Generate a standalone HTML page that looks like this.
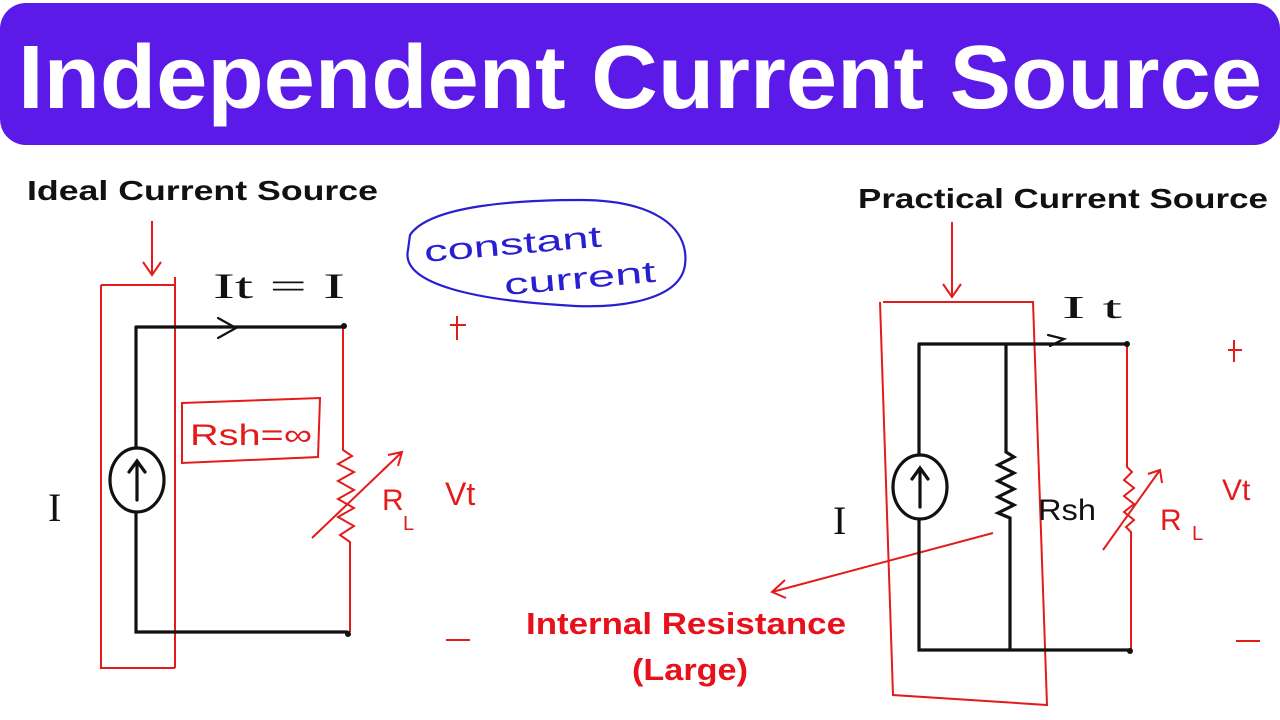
<!DOCTYPE html>
<html><head><meta charset="utf-8"><style>
html,body{margin:0;padding:0;background:#fff;width:1280px;height:720px;overflow:hidden}
svg{display:block}
.t{font-family:"Liberation Sans",sans-serif;font-weight:bold}
.h{font-family:"Liberation Sans",sans-serif}
.s{font-family:"Liberation Serif",serif}
</style></head><body>
<svg width="1280" height="720" viewBox="0 0 1280 720" xmlns="http://www.w3.org/2000/svg">
<rect x="0" y="3" width="1280" height="142" rx="26" fill="#5b1ae8"/>
<text class="t" x="18" y="108" font-size="90" fill="#fff" textLength="1244" lengthAdjust="spacingAndGlyphs">Independent Current Source</text>

<!-- Ideal -->
<text class="t" x="27" y="200" font-size="28" fill="#111" textLength="351" lengthAdjust="spacingAndGlyphs">Ideal Current Source</text>
<g stroke="#e31b1b" stroke-width="2" fill="none">
<path d="M152 221 V274 M143 262 L152 275 L161 262"/>
<path d="M101 285 H175 M101 285 V668 H175 M175 277 V668"/>
<path d="M182 403 L320 398 L318 457 L182 463 Z"/>
<path d="M343 327 V450 L352 456 L338 464 L354 472 L338 481 L354 490 L338 499 L354 508 L338 517 L354 526 L340 535 L350 542 V632"/>
<path d="M312 538 L402 452 M388 455 L402 452 L398 466"/>
<path d="M450 325 H466 M457 316 V340 M446 640 H470"/>
<path d="M883 302 L1033 302 L1047 705 L893 695 L880 302"/>
<path d="M952 222 V296 M943 284 L952 297 L961 284"/>
<path d="M1127 344 V467 L1132 472 L1124 480 L1134 488 L1124 496 L1134 504 L1124 512 L1134 520 L1126 527 L1131 532 V650"/>
<path d="M1103 550 L1160 470 M1148 474 L1160 470 L1162 483"/>
<path d="M993 533 L772 592 M785 580 L772 592 L786 598"/>
<path d="M1228 350 H1242 M1234 340 V362 M1236 641 H1260"/>
</g>
<g stroke="#111" stroke-width="3.2" fill="none" stroke-linecap="round">
<path d="M136 327 H344 M136 327 V448 M136 512 V632 H347"/>
<ellipse cx="137" cy="480" rx="27" ry="32"/>
<path d="M137 500 V462 M129 472 L137 461 L145 472"/>
<path d="M218 318 L236 328 L218 338" stroke-width="2.2"/>
<path d="M919 344 H1127 M919 344 V455 M919 519 V650 H1130 M1006 344 V452 L1014 457 L998 465 L1014 473 L998 481 L1014 489 L998 497 L1014 505 L998 513 L1010 518 V650"/>
<ellipse cx="920" cy="487" rx="27" ry="32"/>
<path d="M920 507 V469 M912 479 L920 468 L928 479"/>
<path d="M1048 335 L1064 339 L1050 346" stroke-width="2.2"/>
</g>
<circle cx="344" cy="326" r="3" fill="#111"/><circle cx="348" cy="634" r="3" fill="#111"/>
<circle cx="1127" cy="344" r="3" fill="#111"/><circle cx="1130" cy="651" r="3" fill="#111"/>

<g class="s" fill="#111" font-size="40">
<text x="48" y="521">I</text>
<text x="213" y="298" font-size="36" textLength="132" lengthAdjust="spacingAndGlyphs">It = I</text>
<text x="833" y="534">I</text>
<text x="1062" y="318" font-size="32" textLength="60" lengthAdjust="spacingAndGlyphs">I t</text>
</g>
<text class="h" x="1038" y="520" font-size="30" fill="#111" textLength="58" lengthAdjust="spacingAndGlyphs">Rsh</text>
<g class="h" fill="#e31b1b">
<text x="190" y="445" font-size="30" textLength="122" lengthAdjust="spacingAndGlyphs">Rsh=∞</text>
<text x="382" y="510" font-size="30">R</text><text x="403" y="530" font-size="20">L</text>
<text x="445" y="505" font-size="32">Vt</text>
<text x="1160" y="530" font-size="30">R</text><text x="1192" y="540" font-size="20">L</text>
<text x="1222" y="500" font-size="30">Vt</text>
</g>
<text class="t" x="526" y="634" font-size="31" fill="#e8101a" textLength="320" lengthAdjust="spacingAndGlyphs">Internal Resistance</text>
<text class="t" x="632" y="680" font-size="31" fill="#e8101a" textLength="116" lengthAdjust="spacingAndGlyphs">(Large)</text>

<text class="t" x="858" y="208" font-size="28" fill="#111" textLength="410" lengthAdjust="spacingAndGlyphs">Practical Current Source</text>

<path d="M410 235 C430 205 520 200 580 200 C650 200 690 225 685 265 C680 300 620 310 560 305 C480 300 400 285 408 250 Z" fill="none" stroke="#2a1fd0" stroke-width="2.2"/>
<g class="h" fill="#2a1fd0" font-size="30">
<text x="425" y="262" textLength="178" lengthAdjust="spacingAndGlyphs" transform="rotate(-5 425 262)">constant</text>
<text x="505" y="295" textLength="152" lengthAdjust="spacingAndGlyphs" transform="rotate(-5 505 295)">current</text>
</g>
</svg>
</body></html>
